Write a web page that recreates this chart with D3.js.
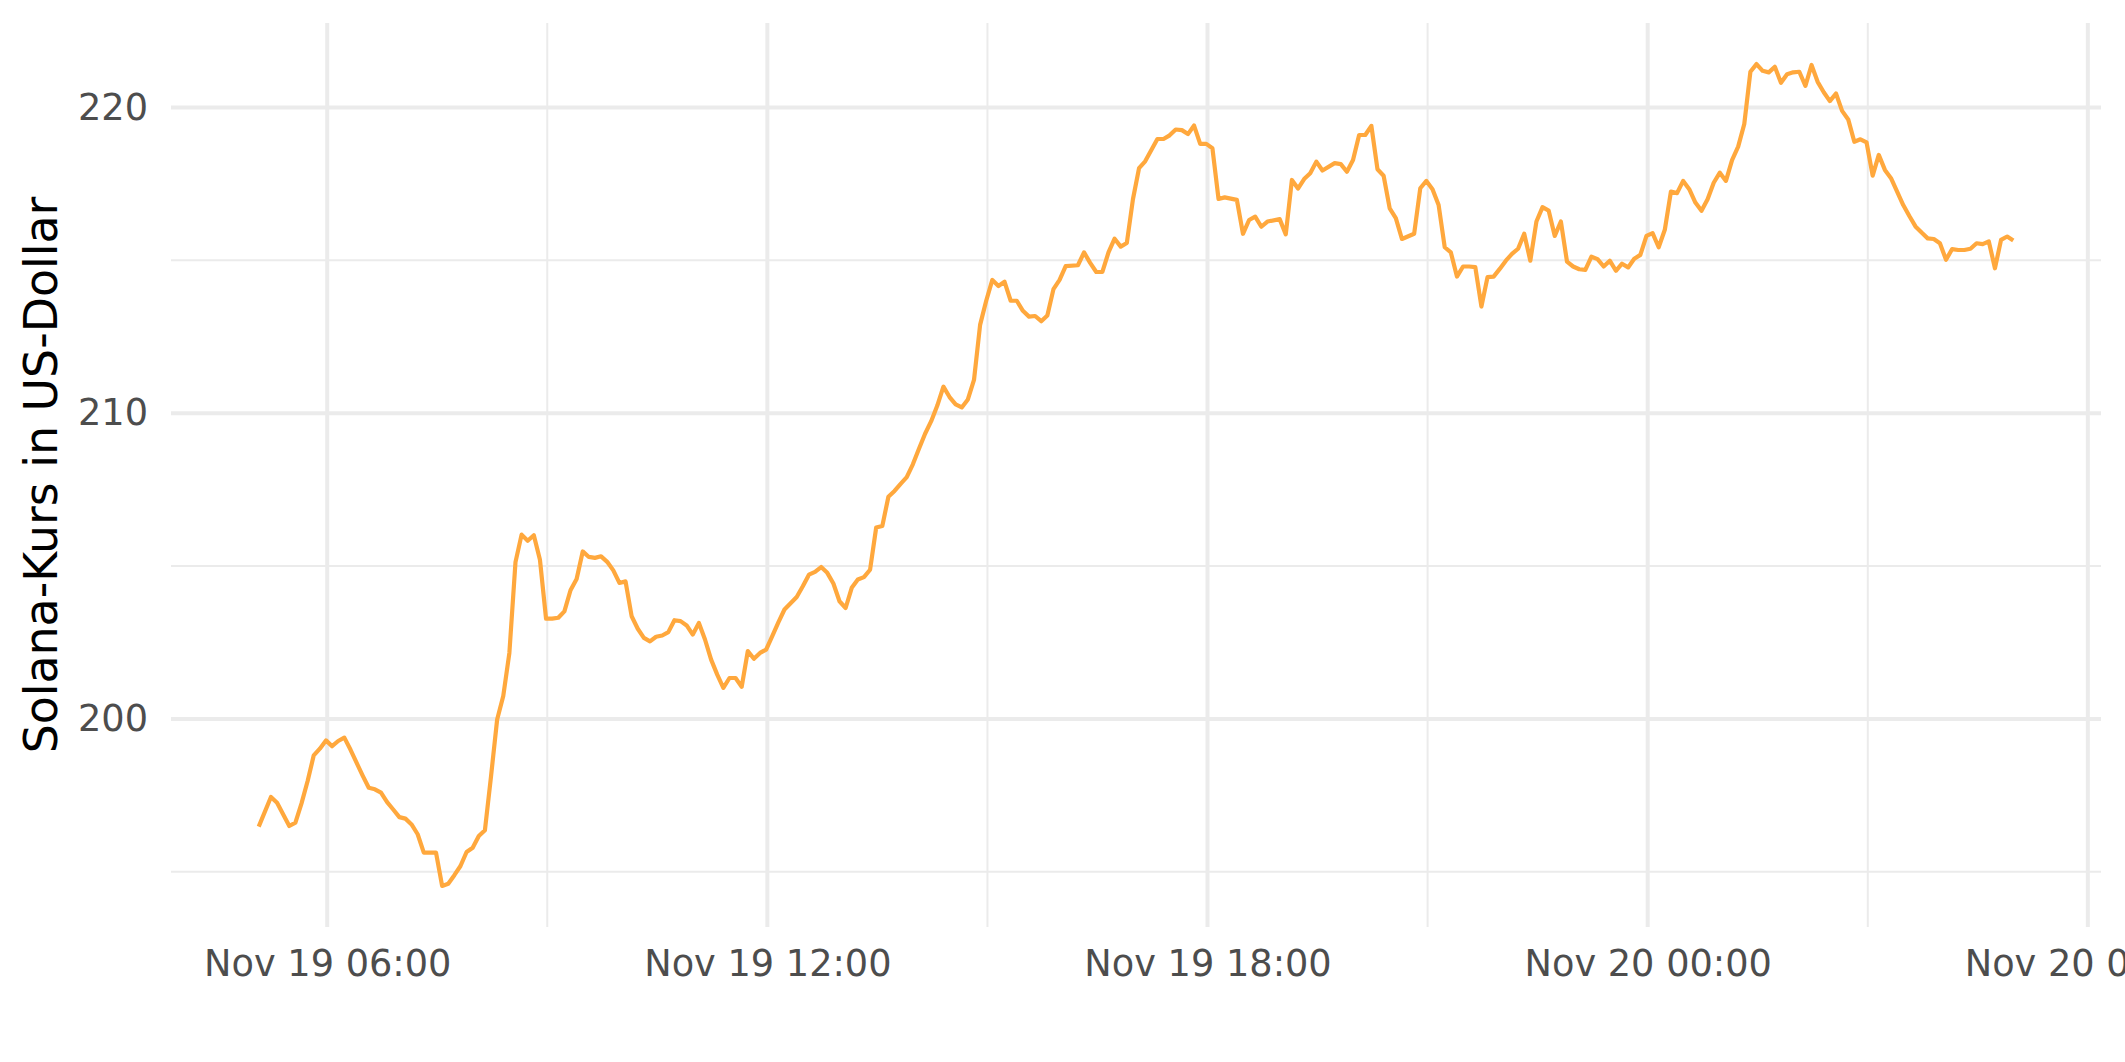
<!DOCTYPE html>
<html><head><meta charset="utf-8">
<script src="https://cdn.jsdelivr.net/npm/d3@7"></script>
<style>html,body{margin:0;padding:0;background:#fff;overflow:hidden;} svg{display:block;}</style>
</head><body>
<svg id="chart" width="2125" height="1062"></svg>
<script>
// ---- data (5-minute Solana prices) ----
const timestamps = [
"11-19 05:04","11-19 05:14","11-19 05:19","11-19 05:29","11-19 05:34","11-19 05:39","11-19 05:44","11-19 05:49","11-19 05:54","11-19 05:59",
"11-19 06:04","11-19 06:09","11-19 06:14","11-19 06:19","11-19 06:24","11-19 06:29","11-19 06:34","11-19 06:39","11-19 06:44","11-19 06:49",
"11-19 06:54","11-19 06:59","11-19 07:04","11-19 07:09","11-19 07:14","11-19 07:19","11-19 07:24","11-19 07:29","11-19 07:34","11-19 07:39",
"11-19 07:44","11-19 07:49","11-19 07:54","11-19 07:59","11-19 08:04","11-19 08:09","11-19 08:14","11-19 08:19","11-19 08:24","11-19 08:29",
"11-19 08:34","11-19 08:39","11-19 08:44","11-19 08:49","11-19 08:54","11-19 08:59","11-19 09:04","11-19 09:09","11-19 09:14","11-19 09:19",
"11-19 09:24","11-19 09:29","11-19 09:34","11-19 09:39","11-19 09:44","11-19 09:49","11-19 09:54","11-19 09:59","11-19 10:04","11-19 10:09",
"11-19 10:14","11-19 10:19","11-19 10:24","11-19 10:29","11-19 10:34","11-19 10:39","11-19 10:44","11-19 10:49","11-19 10:54","11-19 10:59",
"11-19 11:04","11-19 11:09","11-19 11:14","11-19 11:19","11-19 11:24","11-19 11:29","11-19 11:34","11-19 11:39","11-19 11:44","11-19 11:49",
"11-19 11:54","11-19 11:59","11-19 12:04","11-19 12:09","11-19 12:14","11-19 12:24","11-19 12:29","11-19 12:34","11-19 12:39","11-19 12:44",
"11-19 12:49","11-19 12:54","11-19 12:59","11-19 13:04","11-19 13:09","11-19 13:14","11-19 13:19","11-19 13:24","11-19 13:29","11-19 13:34",
"11-19 13:39","11-19 13:44","11-19 13:49","11-19 13:54","11-19 13:59","11-19 14:04","11-19 14:09","11-19 14:14","11-19 14:19","11-19 14:24",
"11-19 14:29","11-19 14:34","11-19 14:39","11-19 14:44","11-19 14:49","11-19 14:54","11-19 14:59","11-19 15:04","11-19 15:09","11-19 15:14",
"11-19 15:19","11-19 15:24","11-19 15:29","11-19 15:34","11-19 15:39","11-19 15:44","11-19 15:49","11-19 15:54","11-19 15:59","11-19 16:04",
"11-19 16:14","11-19 16:19","11-19 16:24","11-19 16:29","11-19 16:34","11-19 16:39","11-19 16:44","11-19 16:49","11-19 16:54","11-19 16:59",
"11-19 17:04","11-19 17:09","11-19 17:19","11-19 17:24","11-19 17:29","11-19 17:34","11-19 17:39","11-19 17:44","11-19 17:49","11-19 17:54",
"11-19 17:59","11-19 18:04","11-19 18:09","11-19 18:14","11-19 18:24","11-19 18:29","11-19 18:34","11-19 18:39","11-19 18:44","11-19 18:49",
"11-19 18:59","11-19 19:04","11-19 19:09","11-19 19:14","11-19 19:19","11-19 19:24","11-19 19:29","11-19 19:34","11-19 19:44","11-19 19:49",
"11-19 19:54","11-19 19:59","11-19 20:04","11-19 20:09","11-19 20:14","11-19 20:19","11-19 20:24","11-19 20:29","11-19 20:34","11-19 20:39",
"11-19 20:49","11-19 20:54","11-19 20:59","11-19 21:04","11-19 21:09","11-19 21:14","11-19 21:19","11-19 21:24","11-19 21:29","11-19 21:34",
"11-19 21:39","11-19 21:44","11-19 21:49","11-19 21:54","11-19 21:59","11-19 22:04","11-19 22:09","11-19 22:14","11-19 22:19","11-19 22:24",
"11-19 22:29","11-19 22:34","11-19 22:39","11-19 22:44","11-19 22:49","11-19 22:54","11-19 22:59","11-19 23:04","11-19 23:09","11-19 23:14",
"11-19 23:19","11-19 23:24","11-19 23:29","11-19 23:34","11-19 23:39","11-19 23:44","11-19 23:49","11-19 23:54","11-19 23:59","11-20 00:04",
"11-20 00:09","11-20 00:14","11-20 00:19","11-20 00:24","11-20 00:29","11-20 00:34","11-20 00:39","11-20 00:44","11-20 00:49","11-20 00:54",
"11-20 00:59","11-20 01:04","11-20 01:09","11-20 01:14","11-20 01:19","11-20 01:24","11-20 01:29","11-20 01:34","11-20 01:39","11-20 01:44",
"11-20 01:49","11-20 01:54","11-20 01:59","11-20 02:04","11-20 02:09","11-20 02:14","11-20 02:19","11-20 02:24","11-20 02:29","11-20 02:34",
"11-20 02:39","11-20 02:44","11-20 02:49","11-20 02:54","11-20 02:59","11-20 03:04","11-20 03:09","11-20 03:14","11-20 03:19","11-20 03:24",
"11-20 03:29","11-20 03:34","11-20 03:39","11-20 03:44","11-20 03:49","11-20 03:54","11-20 03:59","11-20 04:04","11-20 04:09","11-20 04:14",
"11-20 04:19","11-20 04:24","11-20 04:29","11-20 04:34","11-20 04:39","11-20 04:44","11-20 04:49","11-20 04:54","11-20 04:59"
];
const prices = [
196.48,197.45,197.26,196.50,196.61,197.24,197.97,198.81,199.03,199.30,
199.11,199.28,199.39,199.00,198.57,198.15,197.75,197.70,197.59,197.28,
197.04,196.79,196.74,196.55,196.23,195.63,195.63,195.63,194.54,194.61,
194.89,195.19,195.65,195.79,196.17,196.36,198.13,199.98,200.75,202.16,
205.13,206.03,205.83,206.01,205.21,203.28,203.28,203.31,203.52,204.21,
204.58,205.48,205.30,205.27,205.32,205.14,204.86,204.45,204.50,203.36,
202.95,202.65,202.54,202.69,202.73,202.84,203.23,203.20,203.06,202.76,
203.14,202.60,201.94,201.45,201.02,201.34,201.34,201.05,202.22,201.97,
202.16,202.27,202.71,203.16,203.58,203.99,204.34,204.72,204.81,204.97,
204.78,204.43,203.85,203.63,204.29,204.56,204.64,204.88,206.26,206.31,
207.27,207.46,207.69,207.91,208.33,208.84,209.33,209.74,210.25,210.87,
210.53,210.29,210.19,210.45,211.09,212.89,213.68,214.36,214.16,214.30,
213.68,213.68,213.35,213.16,213.18,213.01,213.20,214.06,214.36,214.81,
214.84,215.26,214.92,214.62,214.62,215.26,215.71,215.45,215.57,217.00,
218.02,218.24,218.97,218.97,219.09,219.28,219.26,219.13,219.41,218.81,
218.81,218.67,217.01,217.06,216.98,215.87,216.32,216.43,216.10,216.27,
216.35,215.85,217.63,217.35,217.66,217.85,218.23,217.94,218.18,218.15,
217.90,218.28,219.10,219.10,219.40,217.98,217.77,216.70,216.38,215.70,
215.87,217.36,217.60,217.33,216.81,215.43,215.26,214.47,214.80,214.80,
214.78,213.49,214.45,214.47,214.72,214.99,215.21,215.38,215.87,214.99,
216.27,216.74,216.63,215.80,216.27,214.96,214.80,214.71,214.69,215.12,
215.04,214.80,214.99,214.66,214.89,214.77,215.05,215.18,215.80,215.89,
215.43,216.00,217.25,217.20,217.60,217.33,216.89,216.62,217.00,217.54,
217.87,217.60,218.28,218.72,219.46,221.17,221.42,221.20,221.15,221.33,
220.81,221.09,221.15,221.17,220.71,221.39,220.84,220.50,220.21,220.46,
219.89,219.61,218.88,218.96,218.86,217.77,218.45,217.96,217.69,217.25,
216.81,216.45,216.11,215.91,215.72,215.70,215.56,215.02,215.37,215.34,
215.34,215.38,215.56,215.53,215.62,214.74,215.67,215.78,215.65
];
const dataYear = "2021";
const yMajorTicks = [200, 210, 220];
const yMinorTicks = [195, 205, 215];
const xMajorHours = 6;   // major breaks every 6 hours
const xMinorHours = 3;   // minor breaks halfway
const xTickFormat = "%b %d %H:%M";
const yAxisTitle = "Solana-Kurs in US-Dollar";

// ---- layout ----
const W = 2125, H = 1062;
const panel = {left: 171, right: 2101, top: 23, bottom: 927};
const gridColor = "#ebebeb";
const lineColor = "#FFA83D";
const font = "'DejaVu Sans', Verdana, sans-serif";

const parse = d3.utcParse("%Y-%m-%d %H:%M");
const data = timestamps.map((s, i) => ({t: parse(dataYear + "-" + s), v: prices[i]}));

const [t0, t1] = d3.extent(data, d => d.t);
const span = t1 - t0;
const x = d3.scaleUtc()
  .domain([new Date(+t0 - 0.05 * span), new Date(+t1 + 0.05 * span)])
  .range([panel.left, panel.right]);
const [v0, v1] = d3.extent(data, d => d.v);
const vs = v1 - v0;
const y = d3.scaleLinear()
  .domain([v0 - 0.05 * vs, v1 + 0.05 * vs])
  .range([panel.bottom, panel.top]);

const svg = d3.select("#chart");
svg.append("rect").attr("width", W).attr("height", H).attr("fill", "#fff");

const xMajor = x.ticks(d3.utcHour.every(xMajorHours));
const xMinor = x.ticks(d3.utcHour.every(xMinorHours)).filter(d => d.getUTCHours() % xMajorHours !== 0);

const grid = svg.append("g");
// minor grid
grid.selectAll("line.ymin").data(yMinorTicks).join("line")
  .attr("x1", panel.left).attr("x2", panel.right)
  .attr("y1", d => y(d)).attr("y2", d => y(d))
  .attr("stroke", gridColor).attr("stroke-width", 2);
grid.selectAll("line.xmin").data(xMinor).join("line")
  .attr("y1", panel.top).attr("y2", panel.bottom)
  .attr("x1", d => x(d)).attr("x2", d => x(d))
  .attr("stroke", gridColor).attr("stroke-width", 2);
// major grid
grid.selectAll("line.ymaj").data(yMajorTicks).join("line")
  .attr("x1", panel.left).attr("x2", panel.right)
  .attr("y1", d => y(d)).attr("y2", d => y(d))
  .attr("stroke", gridColor).attr("stroke-width", 4);
grid.selectAll("line.xmaj").data(xMajor).join("line")
  .attr("y1", panel.top).attr("y2", panel.bottom)
  .attr("x1", d => x(d)).attr("x2", d => x(d))
  .attr("stroke", gridColor).attr("stroke-width", 4);

// line
const line = d3.line().x(d => x(d.t)).y(d => y(d.v));
svg.append("path").datum(data)
  .attr("d", line)
  .attr("fill", "none")
  .attr("stroke", lineColor)
  .attr("stroke-width", 4.2)
  .attr("stroke-linejoin", "round")
  .attr("stroke-linecap", "butt");

// axes
const xAxis = d3.axisBottom(x).tickValues(xMajor).tickFormat(d3.utcFormat(xTickFormat))
  .tickSize(0).tickPadding(23);
const gx = svg.append("g").attr("transform", `translate(0,${panel.bottom})`).call(xAxis);
gx.select(".domain").remove();
gx.selectAll("text").attr("font-family", font).attr("font-size", "36.7px").attr("fill", "#4d4d4d");

const yAxis = d3.axisLeft(y).tickValues(yMajorTicks).tickFormat(d3.format("d"))
  .tickSize(0).tickPadding(23);
const gy = svg.append("g").attr("transform", `translate(${panel.left},0)`).call(yAxis);
gy.select(".domain").remove();
gy.selectAll("text").attr("font-family", font).attr("font-size", "36.7px").attr("fill", "#4d4d4d");

svg.append("text")
  .attr("transform", `translate(57,${(panel.top + panel.bottom) / 2}) rotate(-90)`)
  .attr("text-anchor", "middle")
  .attr("font-family", font).attr("font-size", "45.8px").attr("fill", "#000")
  .text(yAxisTitle);
</script>
</body></html>
